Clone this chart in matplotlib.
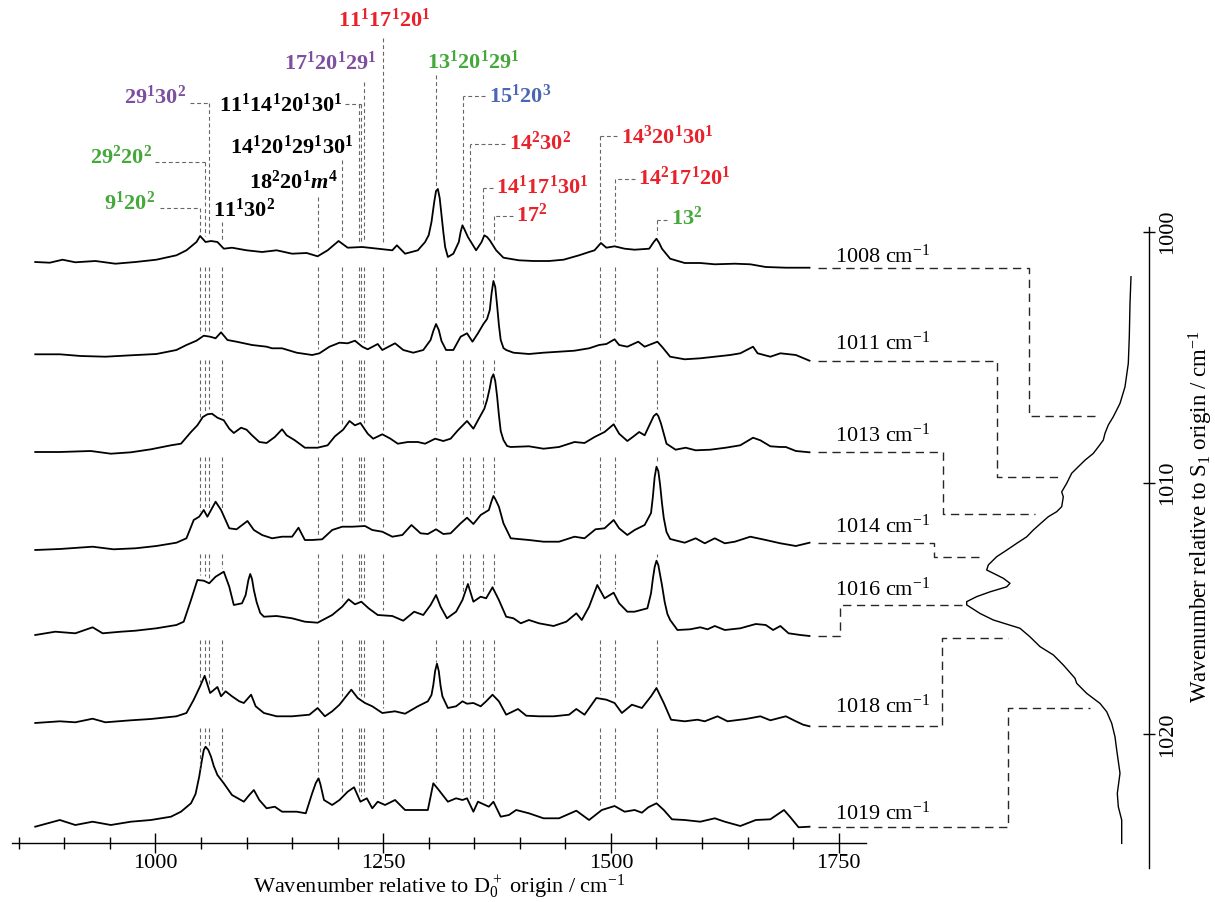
import numpy as np
import matplotlib.pyplot as plt
from matplotlib.ticker import FixedLocator

plt.rcParams['font.family'] = ['Liberation Serif', 'DejaVu Serif']
plt.rcParams['mathtext.fontset'] = 'custom'
plt.rcParams['mathtext.rm'] = 'Liberation Serif'
plt.rcParams['mathtext.bf'] = 'Liberation Serif:bold'
plt.rcParams['mathtext.it'] = 'Liberation Serif:bold:italic'

# --- ZEKE spectra (wavenumber / cm-1, intensity in arbitrary units) ---
wn_1008 = [868, 884, 898, 912, 934, 956, 978, 1001, 1023, 1034, 1045, 1049, 1055, 1061, 1068, 1075, 1084, 1100, 1117, 1133,
           1150, 1166, 1178, 1189, 1201, 1211, 1227, 1244, 1260, 1265, 1274, 1288, 1296, 1300, 1303, 1306, 1308, 1310, 1312, 1314,
           1316, 1318, 1321, 1327, 1333, 1335, 1337, 1339, 1343, 1352, 1358, 1361, 1364, 1367, 1374, 1382, 1399, 1415, 1432, 1448,
           1465, 1476, 1482, 1489, 1495, 1504, 1515, 1526, 1542, 1547, 1550, 1553, 1556, 1565, 1581, 1598, 1614, 1636, 1653, 1670,
           1692, 1718]
int_1008 = [0, -0.7, 2.3, -0.3, 1, -1.7, 0, 2.3, 6.7, 11.7, 20, 26, 20, 21, 20, 13.3, 14.3, 11.7, 10, 11.7,
            8.3, 9, 5.7, 11.7, 21, 14.3, 15, 13.3, 11.7, 16.7, 8.3, 11.7, 20, 27, 40, 60, 71, 73, 64, 47,
            30, 15, 5, 8.3, 20, 30, 36.7, 33, 25, 11.7, 20, 26.7, 25, 21.7, 11.7, 4.3, 1.7, 1, 1, 2.3,
            6.7, 10, 11.7, 19, 14.3, 15.7, 13.3, 12.3, 13.3, 20, 23.3, 19, 13.3, 3.3, -1, -1, -2.3, -1.7, -2.3, -5,
            -5.7, -5.7]

wn_1011 = [868, 895, 918, 945, 973, 1001, 1023, 1034, 1045, 1053, 1060, 1066, 1072, 1079, 1089, 1106, 1122, 1128, 1139, 1155,
           1172, 1180, 1191, 1202, 1211, 1219, 1227, 1233, 1244, 1249, 1263, 1272, 1283, 1294, 1302, 1305, 1308, 1311, 1314, 1319,
           1327, 1335, 1342, 1348, 1354, 1360, 1364, 1367, 1369, 1371, 1373, 1375, 1377, 1379, 1382, 1385, 1393, 1410, 1426, 1443,
           1460, 1476, 1487, 1495, 1504, 1509, 1518, 1530, 1537, 1551, 1556, 1565, 1581, 1598, 1614, 1631, 1642, 1656, 1661, 1675,
           1686, 1703, 1718]
int_1011 = [0.7, 0.7, -1, -1.7, -0.3, 1, 5, 10, 14.3, 19.3, 18.3, 16.7, 22.7, 15, 13.3, 10, 8.3, 6.7, 6.7, 2.3,
            0, 1.7, 8.3, 12.3, 11.7, 14.3, 8.3, 5.7, 11, 5, 11.7, 5, 2.3, 5, 15, 24, 31, 25, 14, 5,
            5, 18.3, 21.7, 13.3, 21.7, 31, 36, 45, 62, 74, 68, 50, 30, 15, 7, 5, 2.3, 1, 2.3, 3.3,
            4.3, 6.7, 10, 11, 15.7, 10, 8.3, 13.3, 8.3, 13.3, 8.3, -1.7, -4.3, -3.3, -1.7, 0, 1.7, 8.3, 1.7, -1.7,
            1.7, 0, -5.7]

wn_1013 = [868, 895, 929, 951, 973, 995, 1017, 1028, 1039, 1046, 1052, 1057, 1062, 1068, 1075, 1081, 1086, 1094, 1100, 1106,
           1114, 1122, 1131, 1139, 1144, 1153, 1164, 1178, 1189, 1197, 1206, 1213, 1219, 1225, 1233, 1239, 1249, 1258, 1266, 1277,
           1288, 1296, 1307, 1316, 1324, 1332, 1342, 1349, 1354, 1361, 1364, 1367, 1369, 1371, 1373, 1375, 1377, 1379, 1382, 1386,
           1390, 1410, 1426, 1443, 1460, 1471, 1482, 1493, 1503, 1509, 1518, 1524, 1531, 1537, 1543, 1547, 1550, 1552, 1555, 1561,
           1571, 1582, 1593, 1609, 1626, 1642, 1656, 1664, 1675, 1686, 1692, 1703, 1718]
int_1013 = [0, 0, 1, -1.7, -0.3, 2.7, 6.7, 8.3, 20, 26.7, 35, 37.7, 38.3, 34.3, 31.7, 23.3, 19, 24.3, 22.3, 16.7,
            10, 9, 15, 22.7, 16.7, 11.7, 4.3, 4.3, 6.7, 15.7, 22.3, 31, 26.7, 29, 18.3, 13.3, 17.7, 13.3, 8.3, 10,
            10, 8.3, 13.3, 11, 13.3, 21.7, 31, 23.3, 31.7, 43.3, 52, 64, 74, 77.7, 71, 56, 37, 21, 12, 6,
            5, 5.7, 3.3, 5, 10, 9, 15, 20, 27.7, 18.3, 11, 15, 20, 16.7, 28.3, 36, 38.3, 36, 28.3, 8.3,
            2.3, 4.3, 1.7, 2.3, 4.3, 6.7, 14.3, 11.7, 5.7, 5, 5, 1, -0.3]

wn_1014 = [868, 895, 931, 954, 978, 1001, 1023, 1034, 1042, 1048, 1053, 1057, 1066, 1072, 1081, 1089, 1101, 1108, 1117, 1128,
           1139, 1150, 1157, 1164, 1172, 1183, 1194, 1205, 1216, 1230, 1238, 1249, 1260, 1271, 1281, 1291, 1299, 1308, 1316, 1324,
           1335, 1342, 1349, 1357, 1366, 1369, 1371, 1373, 1377, 1382, 1390, 1410, 1426, 1443, 1460, 1471, 1483, 1493, 1503, 1509,
           1518, 1526, 1537, 1544, 1546, 1548, 1550, 1552, 1554, 1556, 1558, 1561, 1565, 1581, 1593, 1603, 1614, 1625, 1636, 1653,
           1670, 1686, 1703, 1718]
int_1014 = [-1, 0, 2.3, -0.3, 0.7, 3, 6.3, 10.7, 29, 32.3, 39, 32.3, 47.3, 39, 20.7, 19.7, 28, 19, 14, 10.7,
            12.3, 12.3, 21.3, 9, 9, 9.7, 19, 22.3, 22.3, 23, 19, 17.3, 12.3, 14, 24, 15.7, 15, 19.7, 15, 15.7,
            25.7, 31.3, 25, 34, 39, 48, 53, 50, 42.3, 25.7, 10.7, 9, 7.3, 7.3, 12.3, 10.7, 19.7, 20.7, 29, 20.7,
            14, 19, 24, 36, 52, 72, 82.3, 78, 64, 46, 31, 17, 10, 6.3, 10.7, 5.7, 10.7, 5.7, 7.3, 12.3,
            9, 5.7, 3, 6.3]

wn_1016 = [868, 890, 912, 931, 942, 962, 978, 1001, 1023, 1031, 1039, 1046, 1053, 1059, 1066, 1075, 1081, 1086, 1095, 1099,
           1102, 1104, 1106, 1108, 1111, 1115, 1119, 1133, 1150, 1164, 1178, 1194, 1205, 1212, 1219, 1226, 1234, 1244, 1260, 1272,
           1284, 1294, 1302, 1308, 1313, 1320, 1330, 1337, 1343, 1349, 1357, 1363, 1370, 1377, 1385, 1393, 1401, 1410, 1421, 1437,
           1451, 1462, 1468, 1476, 1485, 1493, 1503, 1509, 1518, 1526, 1540, 1544, 1546, 1548, 1550, 1552, 1554, 1556, 1559, 1562,
           1565, 1573, 1587, 1598, 1606, 1614, 1625, 1642, 1659, 1670, 1678, 1686, 1695, 1708, 1718]
int_1016 = [0, 3.3, 1.7, 7.7, 1.7, 3.3, 4.3, 6.7, 10, 13.3, 35, 55, 54.3, 51.7, 58.3, 63.3, 48.3, 30, 31.7, 40,
            55, 61, 56, 45, 33, 22, 18.3, 19, 16.7, 13.3, 12.3, 20, 28.3, 35.7, 30.7, 33.3, 26.7, 20, 19, 14.3,
            23.3, 20, 30, 40, 28.3, 16.7, 23.3, 35, 51, 33.3, 38.3, 36.7, 47.7, 35, 18.3, 16.7, 11.7, 15, 11.7, 9,
            13.3, 21.7, 15, 28.3, 50, 36.7, 42.3, 31.7, 23.3, 23.3, 26.7, 41.7, 56, 68, 74.3, 70, 60, 50, 33, 21,
            15, 5, 5.7, 7.7, 5.7, 9, 5, 6.7, 11, 10, 5, 9, 1.7, 0, -1]

wn_1018 = [868, 895, 912, 931, 945, 973, 995, 1023, 1034, 1042, 1049, 1054, 1060, 1068, 1072, 1077, 1084, 1092, 1097, 1105,
           1110, 1119, 1133, 1150, 1169, 1178, 1186, 1194, 1202, 1215, 1222, 1230, 1238, 1249, 1263, 1274, 1288, 1299, 1303, 1305,
           1307, 1309, 1311, 1313, 1315, 1321, 1330, 1337, 1342, 1349, 1357, 1363, 1370, 1377, 1385, 1398, 1407, 1421, 1437, 1454,
           1462, 1471, 1484, 1495, 1504, 1512, 1523, 1534, 1544, 1550, 1558, 1566, 1581, 1595, 1603, 1617, 1628, 1648, 1664, 1675,
           1692, 1703, 1711, 1718]
int_1018 = [0, 1.7, 0.7, 4.3, 0.7, 2.7, 4, 6.7, 10, 23.3, 36.7, 47.3, 30, 36, 26.7, 31.7, 26.7, 21.7, 20, 28.3,
            16.7, 10, 6.7, 6.7, 8.3, 15, 6.7, 11.7, 18.3, 33.3, 25, 20, 16.7, 10, 11.7, 9.3, 16.7, 21.7, 28, 38,
            52, 59.3, 52, 37, 26.7, 15, 16.7, 21.7, 19.3, 20, 16.7, 21.7, 28.3, 21.7, 8.3, 14, 7.3, 6.7, 6.7, 8.3,
            14, 8.3, 25, 23.3, 20, 10, 18.3, 15, 26.7, 35, 20, 3.3, 1.7, 3.3, 1.7, 6.7, 1.7, 4, 6.7, 2.7,
            6.7, 1.7, -1.7, -3.3]

wn_1019 = [868, 895, 912, 931, 951, 973, 995, 1017, 1028, 1039, 1044, 1048, 1051, 1053, 1055, 1058, 1061, 1064, 1068, 1075,
           1084, 1097, 1103, 1108, 1114, 1122, 1131, 1139, 1155, 1165, 1172, 1176, 1179, 1181, 1185, 1194, 1202, 1211, 1218, 1225,
           1232, 1238, 1244, 1252, 1263, 1274, 1288, 1299, 1305, 1311, 1321, 1330, 1337, 1342, 1349, 1354, 1366, 1371, 1379, 1388,
           1396, 1410, 1426, 1443, 1462, 1476, 1490, 1504, 1515, 1526, 1534, 1541, 1550, 1558, 1567, 1581, 1598, 1614, 1625, 1642,
           1659, 1675, 1690, 1697, 1706, 1718]
int_1019 = [-0.7, 6, 1, 4.3, 1, 4.3, 6, 9.3, 14.3, 22.7, 32, 49.3, 66, 76, 79.3, 76, 69.3, 60, 51, 42.7,
            31, 24.3, 31, 36, 26, 17.7, 19.3, 14.3, 14.3, 12.7, 32.7, 43, 47.7, 42, 26, 21, 26, 34.3, 38.7, 24.3,
            27.7, 17.7, 24.3, 21, 26, 16, 16, 16, 42.7, 36, 24.3, 27.7, 26, 27.7, 14.3, 24.3, 19.3, 24.3, 9.3, 11,
            16, 12.7, 7.7, 7.7, 15.3, 6, 16, 20, 14.3, 16, 13.3, 18.7, 22.7, 16, 6.7, 6, 4.3, 7.7, 4.3, 0,
            6, 6.7, 16, 8.7, -1.3, -0.7]

exc_labels = ['1008', '1011', '1013', '1014', '1016', '1018', '1019']
spectra = [(wn_1008, int_1008), (wn_1011, int_1011), (wn_1013, int_1013), (wn_1014, int_1014),
           (wn_1016, int_1016), (wn_1018, int_1018), (wn_1019, int_1019)]
offsets = [581, 488, 391, 294, 208, 120, 17]

# --- REMPI excitation spectrum (S1 wavenumber, intensity) ---
exc_wn = [1001.79, 1002.85, 1004.18, 1005.24, 1006.17, 1006.83, 1007.36, 1007.69, 1008.02, 1008.29,
          1008.56, 1008.82, 1009.09, 1009.35, 1009.61, 1010.01, 1010.35, 1010.55, 1010.94, 1011.14,
          1011.34, 1011.63, 1011.87, 1012.14, 1012.40, 1012.67, 1012.93, 1013.26, 1013.46, 1013.59,
          1013.79, 1013.99, 1014.13, 1014.33, 1014.52, 1014.72, 1014.85, 1015.19, 1015.45, 1015.78,
          1016.12, 1016.51, 1016.84, 1017.24, 1017.77, 1017.97, 1018.37, 1018.77, 1019.10, 1019.56,
          1020.10, 1020.62, 1021.55, 1022.35, 1022.88, 1023.41, 1024.34]
exc_int = [18, 19, 19.7, 20.7, 24, 29, 35.7, 40.7, 44, 45.7,
           50.7, 55.7, 64, 70.7, 77.3, 82.3, 87.3, 85.7, 87.3, 92.3,
           100.7, 109, 115.7, 122.3, 132.3, 142.3, 152.3, 160.7, 162.3, 155.7,
           145.7, 139, 142.3, 159, 172.3, 182.3, 182.3, 169, 155.7, 129,
           119, 109, 95.7, 85.7, 74, 72.3, 62.3, 49, 42.3, 37.3,
           34, 32.3, 29, 31.7, 30.7, 27.3, 27.3]
# where each ZEKE excitation sits on the REMPI scale
exc_pos = [1007.33, 1009.75, 1011.25, 1012.96, 1014.84, 1016.18, 1018.97]

# --- band assignments ---
RED, GREEN, PURPLE, BLUE, BLACK = '#e8212b', '#45a83a', '#7d4f9e', '#4a67b2', 'black'
bands = [
    # text, colour, text x, text y, ha, line positions, top of lines, connector start x
    (r'$\mathbf{9^{1}20^{2}}$', GREEN, 999, 640, 'right', [1048.5], 635, 1005),
    (r'$\mathbf{29^{2}20^{2}}$', GREEN, 996, 686, 'right', [1054], 681, 1000),
    (r'$\mathbf{29^{1}30^{2}}$', PURPLE, 1034, 746, 'right', [1059], 740, 1038),
    (r'$\mathbf{11^{1}30^{2}}$', BLACK, 1063, 633, 'left', [1073.5], 621, None),
    (r'$\mathbf{18^{2}20^{1}}\mathit{m}^{\mathbf{4}}$', BLACK, 1200, 661, 'right', [1178], 646, None),
    (r'$\mathbf{14^{1}20^{1}29^{1}30^{1}}$', BLACK, 1217, 696, 'right', [1205.3], 683, None),
    (r'$\mathbf{11^{1}14^{1}20^{1}30^{1}}$', BLACK, 1205, 738, 'right', [1223, 1226], 739, 1208),
    (r'$\mathbf{17^{1}20^{1}29^{1}}$', PURPLE, 1243, 780, 'right', [1228.5], 761, None),
    (r'$\mathbf{11^{1}17^{1}20^{1}}$', RED, 1251, 823, 'center', [1250], 805, None),
    (r'$\mathbf{13^{1}20^{1}29^{1}}$', GREEN, 1298, 781, 'left', [1308], 768, None),
    (r'$\mathbf{15^{1}20^{3}}$', BLUE, 1366, 747, 'left', [1337.5], 747, 1362),
    (r'$\mathbf{14^{2}30^{2}}$', RED, 1388, 700, 'left', [1345.5], 699, 1384),
    (r'$\mathbf{14^{1}17^{1}30^{1}}$', RED, 1374, 656, 'left', [1360], 655, 1371),
    (r'$\mathbf{17^{2}}$', RED, 1396, 628, 'left', [1372], 627, 1392),
    (r'$\mathbf{14^{3}20^{1}30^{1}}$', RED, 1511, 706, 'left', [1487.5], 707, 1507),
    (r'$\mathbf{14^{2}17^{1}20^{1}}$', RED, 1530, 665, 'left', [1504], 664, 1526),
    (r'$\mathbf{13^{2}}$', GREEN, 1566, 625, 'left', [1550.5], 623, 1562),
]

fig = plt.figure(figsize=(12.15, 9.02), dpi=100)
axL = fig.add_axes([12 / 1215, 59 / 902, 854 / 1215, 843 / 902])
axR = fig.add_axes([800 / 1215, 34 / 902, 349 / 1215, 641 / 902])
axR.patch.set_visible(False)

# left panel: stacked ZEKE spectra
axL.set_xlim(842.5, 1780)
axL.set_ylim(0, 843)
for (wn, inten), off in zip(spectra, offsets):
    axL.plot(wn, np.array(inten) + off, color='black', lw=1.3)

line_kw = dict(color='0.4', lw=0.8, ls=(0, (3.5, 2.5)))
gap = 5
for text, col, tx, ty, ha, lines, top, cx in bands:
    axL.text(tx, ty, text, color=col, fontsize=16, ha=ha, va='center')
    if cx is not None:
        far = max(lines, key=lambda v: abs(v - cx))
        axL.plot([cx, far], [top, top], **line_kw)
    for L in lines:
        # from the label down to the first trace, then through each gap in the stack
        y_low = offsets[0] + np.interp(L, *spectra[0]) + gap
        axL.plot([L, L], [top, y_low], **line_kw)
        for i in range(len(spectra) - 1):
            y_hi = offsets[i] + min(0, np.interp(L, *spectra[i])) - gap
            y_lo = offsets[i + 1] + np.interp(L, *spectra[i + 1]) + gap
            axL.plot([L, L], [y_hi, y_lo], **line_kw)

for s in ['left', 'top', 'right']:
    axL.spines[s].set_visible(False)
axL.spines['bottom'].set_linewidth(1.0)
axL.set_yticks([])
axL.xaxis.set_major_locator(FixedLocator([1000, 1250, 1500, 1750]))
axL.xaxis.set_minor_locator(FixedLocator([850, 900, 950, 1050, 1100, 1150, 1200, 1300, 1350, 1400,
                                          1450, 1550, 1600, 1650, 1700]))
axL.tick_params(axis='x', which='major', direction='inout', length=14, width=1.0, labelsize=16, pad=1)
axL.tick_params(axis='x', which='minor', direction='inout', length=9, width=1.0)
axL.set_xlabel(r'Wavenumber relative to D$_0^+$ origin / cm$^{\mathrm{-1}}$', fontsize=16, labelpad=0)

# right panel: REMPI spectrum, S1 wavenumber running downwards
axR.set_xlim(349, 0)
axR.set_ylim(1025.32, 999.81)
axR.plot(exc_int, exc_wn, color='black', lw=1.0)
for s in ['left', 'top', 'bottom']:
    axR.spines[s].set_visible(False)
axR.spines['right'].set_linewidth(1.0)
axR.set_xticks([])
axR.yaxis.tick_right()
axR.set_yticks([1000, 1010, 1020])
axR.tick_params(axis='y', direction='inout', length=9, width=1.0, labelsize=16, pad=2)
for lab in axR.get_yticklabels():
    lab.set_rotation(90)
    lab.set_rotation_mode('default')
    lab.set_ha('left')
    lab.set_va('center')
axR.yaxis.set_label_position('right')
axR.set_ylabel(r'Wavenumber relative to S$_1$ origin / cm$^{\mathrm{-1}}$', fontsize=16.5, rotation=90)
axR.yaxis.set_label_coords(1.108, 0.548)

# dashed links from each ZEKE trace to its excitation position
to_right = axL.transData + axR.transData.inverted()
conn_vx = [120, 152, 206, 215, 309, 207, 141]
conn_ex = [52, 86, 114, 167, 184, 141, 59]
label_y = [587, 500, 408, 317, 254, 137, 30]
for i, name in enumerate(exc_labels):
    wn, inten = spectra[i]
    x0, y0 = to_right.transform((1727, offsets[i] + inten[-1]))
    axR.plot([x0, conn_vx[i], conn_vx[i], conn_ex[i]], [y0, y0, exc_pos[i], exc_pos[i]],
             color='0.15', lw=1.0, ls=(0, (6, 4)), clip_on=False)
    axL.text(1746, label_y[i], name + r' cm$^{\mathrm{-1}}$', fontsize=16, ha='left', va='center')

fig.savefig('out.png', dpi=100)
